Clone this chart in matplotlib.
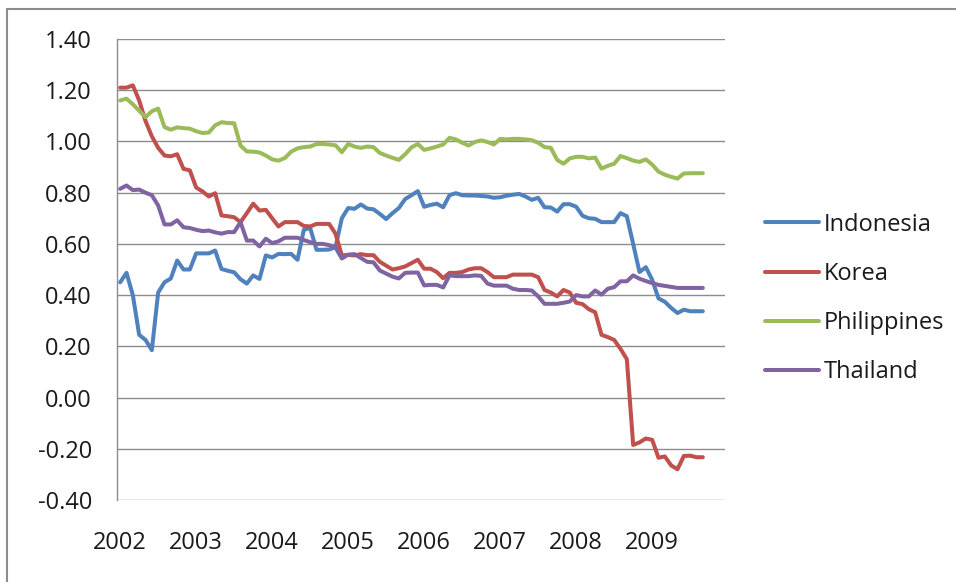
import matplotlib
matplotlib.use("Agg")
import matplotlib.pyplot as plt
from matplotlib.patches import Rectangle
import numpy as np

plt.rcParams['font.family'] = ['Open Sans', 'DejaVu Sans']

years = ["2002", "2003", "2004", "2005", "2006", "2007", "2008", "2009"]
series_names = ["Indonesia", "Korea", "Philippines", "Thailand"]

indonesia = [0.45, 0.487, 0.40, 0.245, 0.225, 0.185, 0.41, 0.45, 0.465, 0.535,
             0.50, 0.50, 0.563, 0.563, 0.563, 0.574, 0.502, 0.495, 0.489, 0.462,
             0.445, 0.477, 0.463, 0.555, 0.547, 0.561, 0.56, 0.561, 0.538, 0.655,
             0.662, 0.577, 0.577, 0.578, 0.587, 0.70, 0.74, 0.737, 0.754, 0.738,
             0.735, 0.717, 0.697, 0.72, 0.74, 0.775, 0.79, 0.806, 0.745, 0.752,
             0.757, 0.743, 0.79, 0.798, 0.79, 0.789, 0.789, 0.787, 0.785, 0.78,
             0.782, 0.788, 0.792, 0.795, 0.785, 0.772, 0.78, 0.743, 0.742, 0.726,
             0.755, 0.755, 0.745, 0.71, 0.70, 0.698, 0.685, 0.685, 0.685, 0.72,
             0.708, 0.60, 0.49, 0.509, 0.46, 0.387, 0.374, 0.35, 0.33, 0.343,
             0.337, 0.337, 0.337]

korea = [1.21, 1.21, 1.219, 1.16, 1.08, 1.02, 0.975, 0.945, 0.942, 0.95,
         0.893, 0.887, 0.82, 0.805, 0.785, 0.798, 0.711, 0.708, 0.704, 0.685,
         0.72, 0.757, 0.73, 0.733, 0.70, 0.668, 0.685, 0.685, 0.685, 0.67,
         0.668, 0.678, 0.678, 0.678, 0.64, 0.555, 0.557, 0.555, 0.56, 0.556,
         0.556, 0.53, 0.515, 0.50, 0.505, 0.512, 0.525, 0.538, 0.503, 0.503,
         0.49, 0.466, 0.487, 0.487, 0.49, 0.50, 0.505, 0.505, 0.49, 0.47,
         0.47, 0.47, 0.48, 0.48, 0.48, 0.48, 0.47, 0.42, 0.41, 0.395,
         0.42, 0.41, 0.37, 0.365, 0.345, 0.333, 0.245, 0.236, 0.225, 0.19,
         0.15, -0.185, -0.175, -0.16, -0.165, -0.235, -0.23, -0.265, -0.28, -0.228,
         -0.227, -0.233, -0.233]

philippines = [1.16, 1.167, 1.145, 1.12, 1.095, 1.118, 1.128, 1.056, 1.046, 1.055,
               1.052, 1.05, 1.04, 1.033, 1.035, 1.063, 1.075, 1.072, 1.071, 0.984,
               0.961, 0.96, 0.957, 0.945, 0.93, 0.925, 0.935, 0.96, 0.973, 0.978,
               0.98, 0.99, 0.99, 0.988, 0.985, 0.958, 0.99, 0.98, 0.975, 0.98,
               0.978, 0.955, 0.945, 0.936, 0.928, 0.95, 0.977, 0.99, 0.967, 0.973,
               0.98, 0.988, 1.014, 1.008, 0.995, 0.984, 0.998, 1.004, 0.998, 0.988,
               1.01, 1.008, 1.01, 1.01, 1.008, 1.005, 0.995, 0.978, 0.975, 0.928,
               0.913, 0.934, 0.94, 0.94, 0.934, 0.937, 0.894, 0.905, 0.913, 0.943,
               0.935, 0.925, 0.92, 0.93, 0.91, 0.882, 0.87, 0.862, 0.855, 0.875,
               0.876, 0.876, 0.876]

thailand = [0.815, 0.828, 0.81, 0.812, 0.80, 0.79, 0.75, 0.676, 0.676, 0.692,
            0.665, 0.662, 0.655, 0.65, 0.652, 0.645, 0.64, 0.646, 0.646, 0.685,
            0.613, 0.613, 0.59, 0.62, 0.603, 0.61, 0.624, 0.624, 0.624, 0.615,
            0.607, 0.60, 0.60, 0.595, 0.586, 0.543, 0.558, 0.56, 0.545, 0.53,
            0.528, 0.496, 0.484, 0.472, 0.465, 0.487, 0.488, 0.488, 0.438, 0.44,
            0.44, 0.43, 0.477, 0.474, 0.474, 0.474, 0.477, 0.475, 0.445, 0.437,
            0.437, 0.437, 0.425, 0.42, 0.42, 0.418, 0.395, 0.366, 0.366, 0.366,
            0.37, 0.375, 0.40, 0.395, 0.395, 0.418, 0.402, 0.425, 0.431, 0.454,
            0.454, 0.477, 0.464, 0.455, 0.447, 0.44, 0.436, 0.432, 0.428, 0.428,
            0.428, 0.428, 0.428]

colors = ["#4F81BD", "#C0504D", "#9BBB59", "#8064A2"]
all_series = [indonesia, korea, philippines, thailand]

fig = plt.figure(figsize=(9.56, 5.82), dpi=100)
fig.patch.set_facecolor("white")

# outer chart border
fig.patches.append(Rectangle((7 / 956, -0.05), 1.2, 1 - 9 / 582 + 0.05,
                             transform=fig.transFigure, fill=False,
                             edgecolor="#8c8c8c", linewidth=1.5, zorder=0))

ax = fig.add_axes([117 / 956, 1 - 500 / 582, (725 - 117) / 956, (500 - 39) / 582])

n_categories = 12 * len(years)
for name, vals, c in zip(series_names, all_series, colors):
    ax.plot(np.arange(len(vals)), vals, color=c, linewidth=2.9, label=name,
            solid_joinstyle="round", solid_capstyle="round")

ax.set_xlim(-0.5, n_categories - 0.5)
ax.set_ylim(-0.4, 1.4)
yt = np.round(np.arange(-0.4, 1.41, 0.2), 2)
ax.set_yticks(yt)
ax.set_yticklabels([f"{v:.2f}" for v in yt])
ax.set_xticks(np.arange(0, n_categories, 12))
ax.set_xticklabels(years)

ax.grid(axis="y", color="#8c8c8c", linewidth=1.0)
ax.set_axisbelow(True)
for s in ["top", "right", "bottom"]:
    ax.spines[s].set_visible(False)
ax.spines["left"].set_color("#8c8c8c")
ax.spines["left"].set_linewidth(1.0)
ax.tick_params(axis="both", length=0, labelsize=17, colors="#1a1a1a")
ax.tick_params(axis="y", pad=18)
ax.tick_params(axis="x", pad=22)

leg = ax.legend(loc="center left", bbox_to_anchor=(1.0, 0.437),
                frameon=False, fontsize=17, handlelength=2.3,
                handletextpad=0.2, labelspacing=1.07, borderaxespad=1.29)
for t in leg.get_texts():
    t.set_color("#1a1a1a")

fig.savefig("out.png", dpi=100, facecolor="white")
